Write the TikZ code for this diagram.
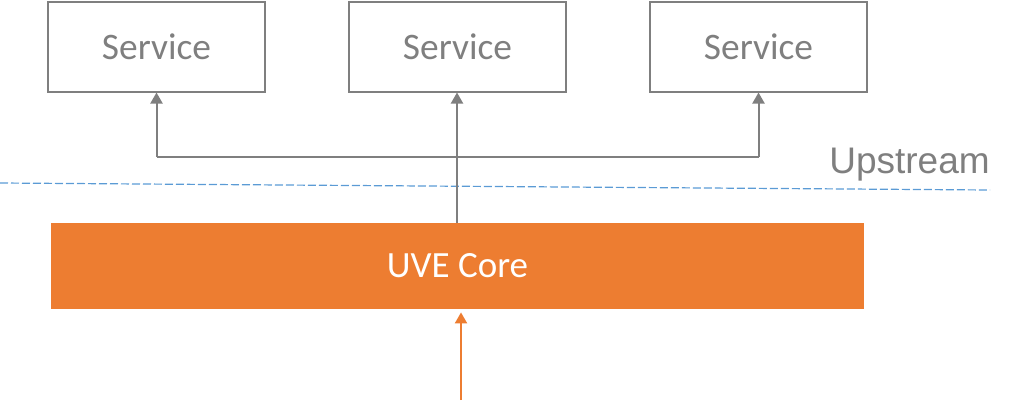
\documentclass[tikz,border=0pt]{standalone}
\usepackage{fontspec}
\setmainfont{Carlito}
\newfontfamily\upfont{Liberation Sans}
\usetikzlibrary{arrows.meta}

\definecolor{boxgray}{RGB}{127,127,127}
\definecolor{coreorange}{RGB}{237,125,49}
\definecolor{lineblue}{RGB}{91,155,213}

\tikzset{
  servicebox/.style={draw=boxgray, line width=1pt, minimum width=108.5pt, minimum height=45pt,
    inner sep=0pt, text=boxgray, font=\fontsize{18.7}{22}\selectfont},
  corebox/.style={fill=coreorange, minimum width=406.5pt, minimum height=43pt,
    inner sep=0pt, text=white, font=\fontsize{18.5}{22}\selectfont},
  grayline/.style={draw=boxgray, line width=1pt},
  grayarrow/.style={grayline, -{Triangle[width=6pt,length=5.5pt]}},
  orangearrow/.style={draw=coreorange, line width=1pt, -{Triangle[width=6pt,length=5.5pt]}},
}

\begin{document}
\begin{tikzpicture}[x=0.5pt, y=-0.5pt]
  \useasboundingbox (0,0) rectangle (1016,402);

  % services on top
  \node[servicebox] (svc1) at (156.5,46.5) {Service};
  \node[servicebox] (svc2) at (457.5,46.5) {Service};
  \node[servicebox] (svc3) at (758.5,46.5) {Service};

  \node[corebox] (core) at (457.5,266) {UVE Core};

  % upstream border
  \draw[lineblue, line width=0.6pt, dash pattern=on 4pt off 1.5pt] (0,183) -- (990,190);
  \node[anchor=base, text=boxgray, font=\upfont\fontsize{18.5}{22}\selectfont] (upstream) at (909.5,173) {Upstream};

  \coordinate (bus) at (457,157);
  \coordinate (src) at (461,400);

  \draw[grayline] (svc1.south |- bus) -- (svc3.south |- bus);
  \draw[grayarrow] (svc1.south |- bus) -- (svc1.south);
  \draw[grayarrow] (svc3.south |- bus) -- (svc3.south);
  \draw[grayarrow] (core.north -| bus) -- (svc2.south -| bus);

  \draw[orangearrow, shorten >=1.5pt] (src) -- (src |- core.south);
\end{tikzpicture}
\end{document}
